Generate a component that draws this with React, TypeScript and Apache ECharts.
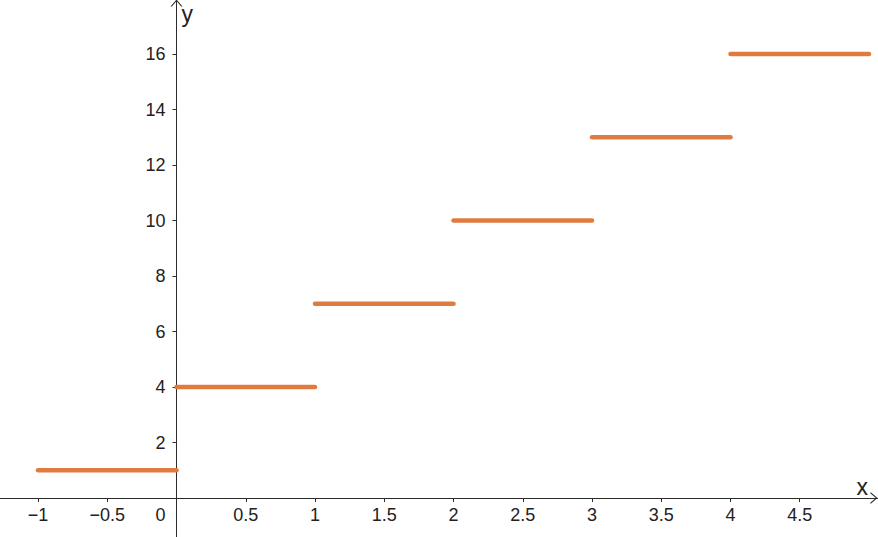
import React, { useEffect, useRef } from "react";
import * as echarts from "echarts";

const stepStarts = [-1, 0, 1, 2, 3, 4];
const stepEnds = [0, 1, 2, 3, 4, 5];
const stepValues = [1, 4, 7, 10, 13, 16];
const xTickValues = [-1, -0.5, 0.5, 1, 1.5, 2, 2.5, 3, 3.5, 4, 4.5];
const xLabelValues = [-1, -0.5, 0, 0.5, 1, 1.5, 2, 2.5, 3, 3.5, 4, 4.5];
const yTickValues = [2, 4, 6, 8, 10, 12, 14, 16];

const X_MIN = -1.2744;
const X_MAX = 5.065;
const Y_MIN = -1.405;
const Y_MAX = 17.946;
const W = 878;
const H = 537;

const fmt = (v: number) => {
  const s = String(Math.abs(v));
  return v < 0 ? "\u2212" + s : s;
};

const arrow = "path://M0,7 L6,0 L12,7 L10.6,7 L6,1.6 L1.4,7 Z";

export default function App() {
  const ref = useRef<HTMLDivElement>(null);
  useEffect(() => {
    if (!ref.current) return;
    const chart = echarts.init(ref.current, undefined, { renderer: "svg" });
    const axisColor = "#2b2b2b";
    const labelStyle = {
      color: "#222",
      fontSize: 18,
      fontFamily: "Liberation Sans, Arial, sans-serif",
    };
    // place each axis line at the other axis's zero
    const yAxisOffset = -((0 - X_MIN) / (X_MAX - X_MIN)) * W;
    const xAxisOffset = -((0 - Y_MIN) / (Y_MAX - Y_MIN)) * H;
    chart.setOption({
      animation: false,
      backgroundColor: "#ffffff",
      grid: { left: 0, right: 0, top: 0, bottom: 0, containLabel: false, outerBoundsMode: "none" },
      xAxis: {
        type: "value",
        min: X_MIN,
        max: X_MAX,
        position: "bottom",
        offset: xAxisOffset,
        name: "x",
        nameLocation: "end",
        nameGap: -10,
        nameTextStyle: {
          fontSize: 23,
          color: "#222",
          fontFamily: "Liberation Sans, Arial, sans-serif",
          align: "right",
          verticalAlign: "bottom",
          padding: [0, 0, 0, 0],
        },
        splitLine: { show: false },
        axisLine: {
          onZero: false,
          lineStyle: { color: axisColor, width: 1 },
          symbol: ["none", arrow],
          symbolSize: [12, 7],
          symbolOffset: [0, -4],
        },
        axisTick: { show: true, length: 4, customValues: xTickValues, lineStyle: { color: axisColor } },
        axisLabel: {
          ...labelStyle,
          margin: 8,
          customValues: xLabelValues,
          formatter: (v: number) => (v === 0 ? "{z|0}" : fmt(v)),
          rich: { z: { ...labelStyle, padding: [0, 32, 0, 0] } },
        },
      },
      yAxis: {
        type: "value",
        min: Y_MIN,
        max: Y_MAX,
        position: "left",
        offset: yAxisOffset,
        name: "y",
        nameLocation: "end",
        nameGap: -2,
        nameTextStyle: {
          fontSize: 23,
          color: "#222",
          fontFamily: "Liberation Sans, Arial, sans-serif",
          align: "left",
          verticalAlign: "top",
          padding: [0, 0, 0, 5],
        },
        splitLine: { show: false },
        axisLine: {
          onZero: false,
          lineStyle: { color: axisColor, width: 1 },
          symbol: ["none", arrow],
          symbolSize: [12, 7],
          symbolOffset: [0, -3],
        },
        axisTick: { show: true, length: 4, customValues: yTickValues, lineStyle: { color: axisColor } },
        axisLabel: {
          ...labelStyle,
          margin: 11,
          customValues: yTickValues,
          formatter: (v: number) => fmt(v),
        },
      },
      series: stepValues.map((v, i) => ({
        type: "line",
        data: [
          [stepStarts[i], v],
          [stepEnds[i], v],
        ],
        showSymbol: false,
        symbol: "none",
        lineStyle: { color: "#e07b3f", width: 4.5, cap: "round" },
        z: 5,
      })),
    });
    return () => chart.dispose();
  }, []);
  return (
    <div
      ref={ref}
      style={{ position: "fixed", left: 0, top: 0, width: W, height: H, background: "#fff" }}
    />
  );
}
